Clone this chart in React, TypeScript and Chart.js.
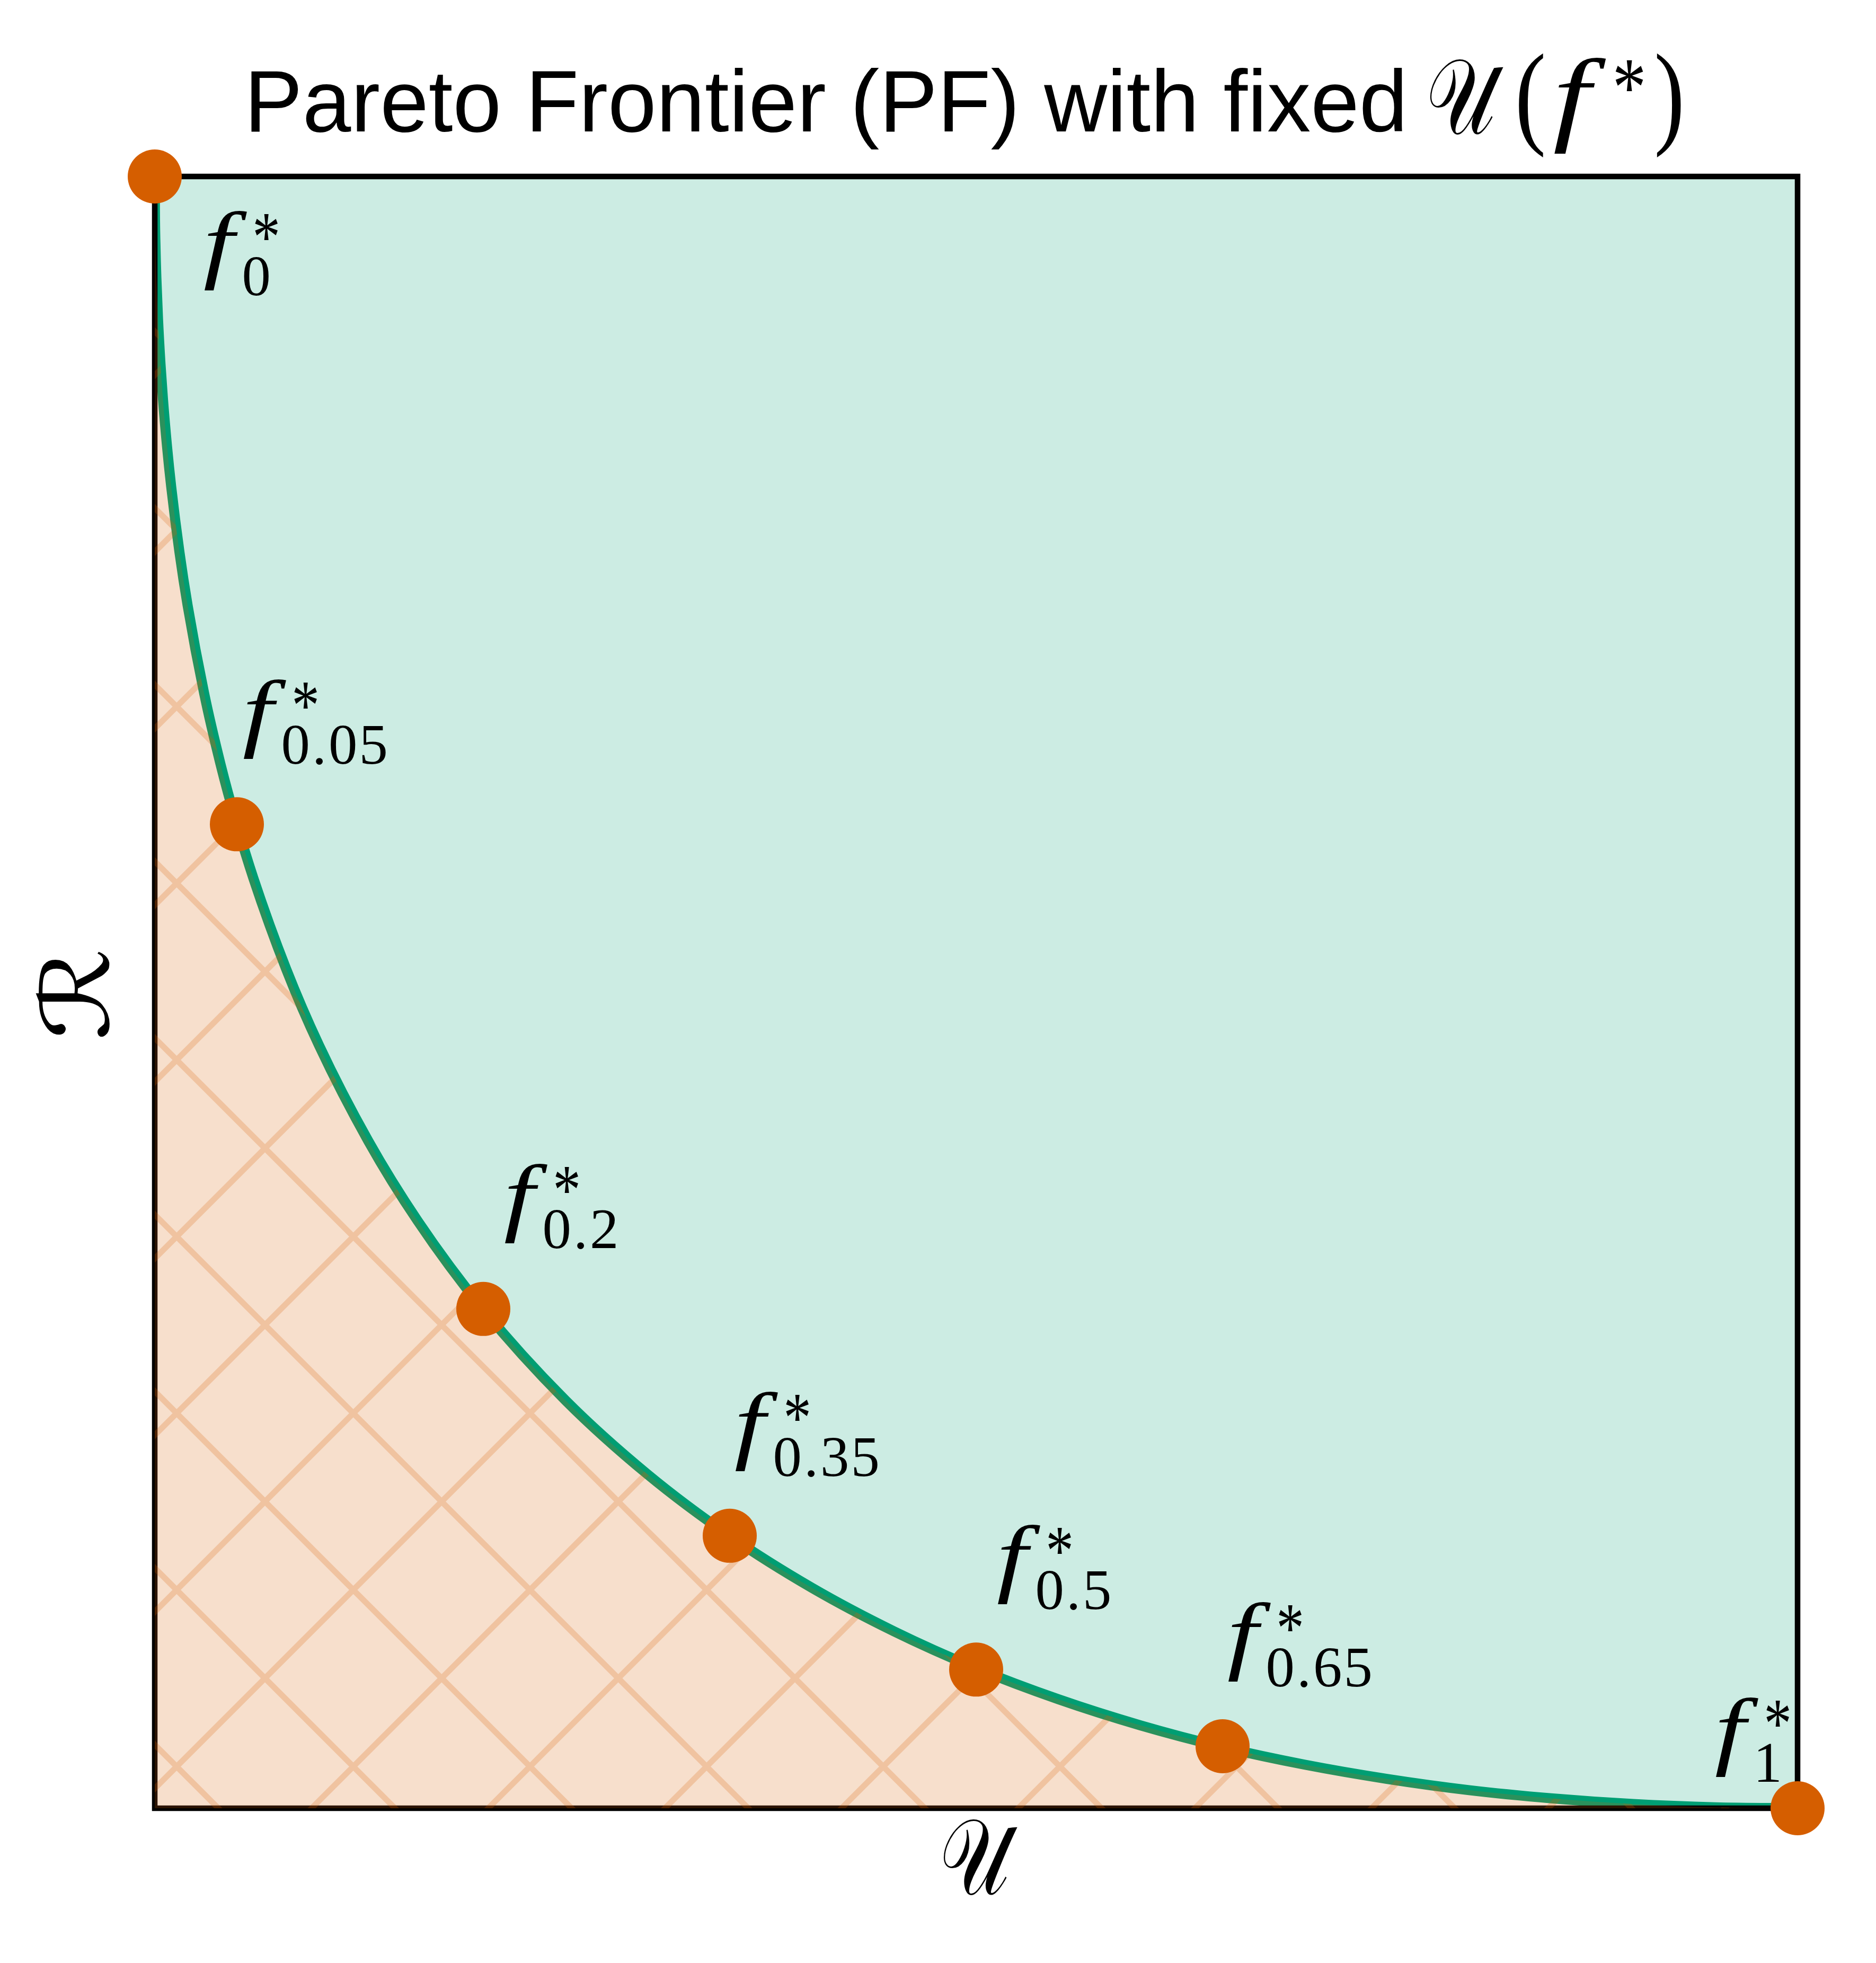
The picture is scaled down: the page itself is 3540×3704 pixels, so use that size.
import React, { useEffect, useRef } from "react";
import { Chart, registerables } from "chart.js";

Chart.register(...registerables);

// ---------------- data ----------------
const frontierU = [
  0, 0.0001, 0.0005, 0.001, 0.002, 0.0035, 0.005, 0.0075, 0.01, 0.015, 0.02, 0.03, 0.04, 0.05,
  0.06, 0.08, 0.1, 0.13, 0.16, 0.2, 0.25, 0.3, 0.35, 0.4, 0.45, 0.5, 0.55, 0.6, 0.65, 0.7,
  0.75, 0.8, 0.85, 0.9, 0.95, 1.0,
];
const frontierR = [
  1, 0.9801, 0.9558, 0.9378, 0.9126, 0.8852, 0.8636, 0.8343, 0.81, 0.7701, 0.7372, 0.6836, 0.64, 0.6028,
  0.5701, 0.5143, 0.4675, 0.4089, 0.36, 0.3056, 0.25, 0.2046, 0.1668, 0.1351, 0.1084, 0.0858, 0.0668, 0.0508, 0.0375, 0.0267,
  0.018, 0.0111, 0.0061, 0.0026, 0.0006, 0,
];
const pointNames = ["0", "0.05", "0.2", "0.35", "0.5", "0.65", "1"];
const pointU = [0, 0.05, 0.2, 0.35, 0.5, 0.65, 1];
const pointR = [1, 0.603, 0.306, 0.167, 0.085, 0.038, 0];

const titleText = "Pareto Frontier (PF) with fixed";
const xLabel = "\u{1D4B0}"; // script U
const yLabel = "\u211B"; // script R

// label offsets from each marker (pixels): left edge of "f", baseline of "f"
const labelDx = [93, 12, 40, 10, 40, 10, -155];
const labelDy = [183, -155, -156, -154, -155, -154, -91];

// ---------------- layout ----------------
const W = 3524;
const H = 3688;
const OFF = 8;
const SERIF = "'Liberation Serif', 'DejaVu Serif', serif";
const SANS = "'Liberation Sans', Arial, sans-serif";
const MATHSYM = "'DejaVu Sans', 'DejaVu Serif', 'Noto Sans', serif";

function fitSize(ctx: CanvasRenderingContext2D, text: string, style: string, family: string, inkH: number) {
  ctx.font = `${style} 100px ${family}`;
  const m = ctx.measureText(text);
  const h = m.actualBoundingBoxAscent + m.actualBoundingBoxDescent;
  return h > 0 ? (100 * inkH) / h : 100;
}

// draw text so that its ink box is exactly (left, top, w, h)
function drawInkFit(
  ctx: CanvasRenderingContext2D,
  text: string,
  style: string,
  family: string,
  left: number,
  top: number,
  w: number,
  h: number
) {
  const size = fitSize(ctx, text, style, family, h);
  ctx.font = `${style} ${size}px ${family}`;
  ctx.textAlign = "left";
  ctx.textBaseline = "alphabetic";
  const m = ctx.measureText(text);
  const w0 = m.actualBoundingBoxLeft + m.actualBoundingBoxRight;
  const sx = w0 > 0 ? w / w0 : 1;
  ctx.save();
  ctx.translate(left, top);
  ctx.scale(sx, 1);
  ctx.fillText(text, m.actualBoundingBoxLeft, m.actualBoundingBoxAscent);
  ctx.restore();
}

function makeHatch(): CanvasPattern | string {
  const T = 1000;
  const c = T / 3;
  const cv = document.createElement("canvas");
  cv.width = T;
  cv.height = T;
  const g = cv.getContext("2d");
  if (!g) return "rgba(213,94,0,0.2)";
  g.fillStyle = "rgba(213,94,0,0.2)";
  g.fillRect(0, 0, T, T);
  g.beginPath();
  for (let k = -4; k <= 7; k++) {
    const d = k * c; // u - v = d
    g.moveTo(d - 200, -200);
    g.lineTo(d + 1200, 1200);
    const s = k * c - 2 * OFF; // u + v = s
    g.moveTo(s + 200, -200);
    g.lineTo(s - 1200, 1200);
  }
  g.strokeStyle = "rgba(213,94,0,0.22)";
  g.lineWidth = 11;
  g.lineCap = "butt";
  g.stroke();
  const p = g.createPattern(cv, "repeat");
  return p || "rgba(213,94,0,0.2)";
}

const framePlugin = {
  id: "frameAfterLine",
  afterDatasetDraw(chart: any, args: any) {
    const ds = chart.data.datasets[args.index];
    if (!ds || ds.label !== "frontier") return;
    const { ctx, chartArea } = chart;
    ctx.save();
    ctx.strokeStyle = "#000000";
    ctx.lineWidth = 10.5;
    ctx.strokeRect(chartArea.left, chartArea.top, chartArea.right - chartArea.left, chartArea.bottom - chartArea.top);
    ctx.restore();
  },
};

const textPlugin = {
  id: "mathText",
  afterDraw(chart: any) {
    const ctx: CanvasRenderingContext2D = chart.ctx;
    ctx.save();
    ctx.fillStyle = "#000000";

    // point labels f*_lambda
    const meta = chart.getDatasetMeta(0);
    const subSize = fitSize(ctx, "0", "normal", SERIF, 74);
    meta.data.forEach((el: any, i: number) => {
      const fl = el.x + labelDx[i];
      const fb = el.y + labelDy[i];
      drawInkFit(ctx, "f", "italic", SERIF, fl, fb - 118, 82, 150);
      drawInkFit(ctx, "*", "normal", SERIF, fl + 96, fb - 113, 43, 49);
      ctx.font = `normal ${subSize}px ${SERIF}`;
      ctx.textAlign = "center";
      ctx.textBaseline = "alphabetic";
      let x = fl + 70;
      for (const ch of pointNames[i]) {
        const adv = ch === "." ? 32 : 57.5;
        ctx.fillText(ch, x + adv / 2, fb + 41);
        x += adv;
      }
    });

    // title
    ctx.font = `normal 100px ${SANS}`;
    ctx.textAlign = "left";
    ctx.textBaseline = "alphabetic";
    let m = ctx.measureText(titleText);
    const inkW100 = m.actualBoundingBoxLeft + m.actualBoundingBoxRight;
    const tSize = (100 * 2173) / inkW100;
    ctx.font = `normal ${tSize}px ${SANS}`;
    m = ctx.measureText(titleText);
    ctx.fillText(titleText, 474 - OFF + m.actualBoundingBoxLeft, 248 - OFF);
    drawInkFit(ctx, xLabel, "normal", MATHSYM, 2698 - OFF, 112 - OFF, 139, 141);
    drawInkFit(ctx, "(", "normal", SERIF, 2866 - OFF, 100 - OFF, 46, 198);
    drawInkFit(ctx, "f", "italic", SERIF, 2933 - OFF, 109 - OFF, 98, 181);
    drawInkFit(ctx, "*", "normal", SERIF, 3048 - OFF, 113 - OFF, 53, 59);
    drawInkFit(ctx, ")", "normal", SERIF, 3126 - OFF, 100 - OFF, 46, 198);

    // axis labels
    drawInkFit(ctx, xLabel, "normal", MATHSYM, 1780 - OFF, 3433 - OFF, 140, 142);
    ctx.save();
    ctx.translate(137 - OFF, 1876 - OFF);
    ctx.rotate(-Math.PI / 2);
    drawInkFit(ctx, yLabel, "normal", MATHSYM, -81, -70, 162, 140);
    ctx.restore();

    ctx.restore();
  },
};

export default function App() {
  const ref = useRef<HTMLCanvasElement | null>(null);

  useEffect(() => {
    const canvas = ref.current;
    if (!canvas) return;
    const curve = frontierU.map((u, i) => ({ x: u, y: frontierR[i] }));
    const pts = pointU.map((u, i) => ({ x: u, y: pointR[i] }));
    const hatch = makeHatch();

    const chart = new Chart(canvas, {
      type: "scatter",
      data: {
        datasets: [
          {
            type: "scatter",
            label: "points",
            data: pts,
            order: 0,
            pointRadius: 51,
            pointHoverRadius: 51,
            pointBackgroundColor: "#D55E00",
            backgroundColor: "#D55E00",
            pointBorderWidth: 0,
            borderWidth: 0,
            showLine: false,
            clip: false,
          } as any,
          {
            type: "line",
            label: "below",
            data: curve,
            order: 1,
            borderWidth: 0,
            borderColor: "rgba(0,0,0,0)",
            backgroundColor: hatch,
            fill: { value: 0 },
            pointRadius: 0,
            cubicInterpolationMode: "monotone",
            clip: 0,
          } as any,
          {
            type: "line",
            label: "frontier",
            data: curve,
            order: 2,
            borderColor: "#009E73",
            borderWidth: 19,
            fill: false,
            pointRadius: 0,
            cubicInterpolationMode: "monotone",
            clip: 0,
          } as any,
          {
            type: "line",
            label: "above",
            data: curve,
            order: 3,
            borderWidth: 0,
            borderColor: "rgba(0,0,0,0)",
            backgroundColor: "rgba(0,158,115,0.2)",
            fill: { value: 1 },
            pointRadius: 0,
            cubicInterpolationMode: "monotone",
            clip: 0,
          } as any,
        ],
      },
      options: {
        animation: false,
        responsive: false,
        maintainAspectRatio: false,
        devicePixelRatio: 1,
        events: [],
        layout: { padding: { left: 292 - OFF, top: 333 - OFF, right: W - (3392 - OFF), bottom: H - (3412 - OFF) } },
        plugins: {
          legend: { display: false },
          title: { display: false },
          tooltip: { enabled: false },
        },
        scales: {
          x: { type: "linear", min: 0, max: 1, display: false },
          y: { type: "linear", min: 0, max: 1, display: false },
        },
      },
      plugins: [framePlugin, textPlugin],
    });
    return () => chart.destroy();
  }, []);

  return (
    <div>
      <canvas ref={ref} width={W} height={H} style={{ display: "block", width: `${W}px`, height: `${H}px` }} />
    </div>
  );
}
